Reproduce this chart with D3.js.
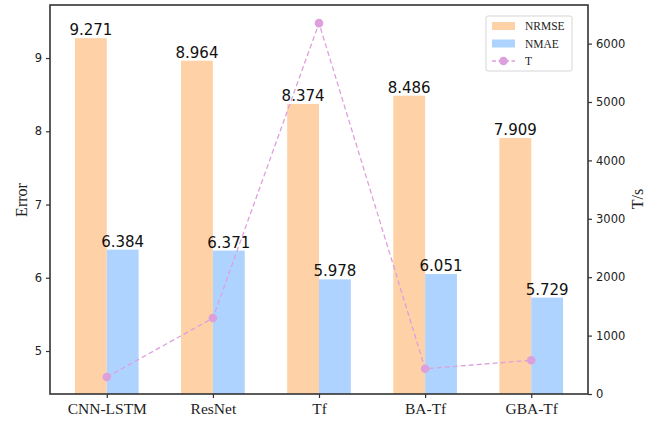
<!DOCTYPE html>
<html><head><meta charset="utf-8">
<script src="https://cdn.jsdelivr.net/npm/d3@7"></script>
<style>body{margin:0;background:#fff}svg{display:block}</style>
</head><body>
<svg id="c" width="662" height="421"></svg>
<script>
const categories = ["CNN-LSTM","ResNet","Tf","BA-Tf","GBA-Tf"];
const nrmse = [9.271, 8.964, 8.374, 8.486, 7.909];
const nmae = [6.384, 6.371, 5.978, 6.051, 5.729];
const timeT = [290, 1300, 6350, 433, 577];
const errorTicks = [5,6,7,8,9];
const timeTicks = [0,1000,2000,3000,4000,5000,6000];

const W=662,H=421;
const m={l:50,t:5,r:588,b:394};
const svg=d3.select("#c");
const x=d3.scaleLinear().domain([-0.535,4.535]).range([m.l,m.r]);
const yL=d3.scaleLinear().domain([4.413,9.724]).range([m.b,m.t]);
const yR=d3.scaleLinear().domain([0,6661]).range([m.b,m.t]);
const bw=0.3;
const cOrange="#ffd1a6", cBlue="#aed3fe", cLine="#dda0dd";

// bars
svg.append("g").selectAll("rect").data(nrmse).join("rect")
  .attr("x",(d,i)=>x(i-bw)).attr("width",x(bw)-x(0))
  .attr("y",d=>yL(d)).attr("height",d=>m.b-yL(d)).attr("fill",cOrange);
svg.append("g").selectAll("rect").data(nmae).join("rect")
  .attr("x",(d,i)=>x(i)).attr("width",x(bw)-x(0))
  .attr("y",d=>yL(d)).attr("height",d=>m.b-yL(d)).attr("fill",cBlue);

// value labels
const lab=svg.append("g").attr("font-family","DejaVu Sans").attr("font-size",15).attr("fill","#111").attr("text-anchor","middle");
nrmse.forEach((d,i)=>lab.append("text").attr("x",x(i-bw/2)).attr("y",yL(d)-3).text(d.toFixed(3)));
nmae.forEach((d,i)=>lab.append("text").attr("x",x(i+bw/2)).attr("y",yL(d)-3).text(d.toFixed(3)));

// line
const line=d3.line().x((d,i)=>x(i)).y(d=>yR(d));
svg.append("path").datum(timeT).attr("d",line).attr("fill","none")
  .attr("stroke",cLine).attr("stroke-width",1.3).attr("stroke-dasharray","5,3");
svg.append("g").selectAll("circle").data(timeT).join("circle")
  .attr("cx",(d,i)=>x(i)).attr("cy",d=>yR(d)).attr("r",4.3).attr("fill",cLine);

// frame
svg.append("rect").attr("x",m.l).attr("y",m.t).attr("width",m.r-m.l).attr("height",m.b-m.t)
  .attr("fill","none").attr("stroke","#333").attr("stroke-width",1.6);

// axes
const axL=svg.append("g").attr("transform",`translate(${m.l},0)`)
  .call(d3.axisLeft(yL).tickValues(errorTicks).tickSize(4).tickPadding(4).tickFormat(d3.format("d")));
const axR=svg.append("g").attr("transform",`translate(${m.r},0)`)
  .call(d3.axisRight(yR).tickValues(timeTicks).tickSize(4).tickPadding(4).tickFormat(d3.format("d")));
const axB=svg.append("g").attr("transform",`translate(0,${m.b})`)
  .call(d3.axisBottom(x).tickValues(d3.range(categories.length)).tickSize(4).tickPadding(5).tickFormat(i=>categories[i]));
[axL,axR,axB].forEach(a=>{a.select(".domain").remove();a.selectAll("line").attr("stroke","#333").attr("stroke-width",1.2);});
axL.selectAll("text").attr("font-family","DejaVu Sans").attr("font-size",11.5).attr("fill","#222");
axR.selectAll("text").attr("font-family","DejaVu Sans").attr("font-size",11.5).attr("fill","#222");
axB.selectAll("text").attr("font-family","Liberation Serif").attr("font-size",15.5).attr("fill","#222");

// axis titles
svg.append("text").attr("transform","translate(27,200) rotate(-90)").attr("text-anchor","middle")
  .attr("font-family","Liberation Serif").attr("font-size",16).attr("fill","#222").text("Error");
svg.append("text").attr("transform","translate(643,199) rotate(-90)").attr("text-anchor","middle")
  .attr("font-family","Liberation Serif").attr("font-size",16).attr("fill","#222").text("T/s");

// legend
const lg=svg.append("g");
lg.append("rect").attr("x",486).attr("y",16).attr("width",86).attr("height",55).attr("rx",2)
  .attr("fill","#fff").attr("fill-opacity",0.8).attr("stroke","#ccc").attr("stroke-width",0.8);
const items=[{n:"NRMSE",t:"bar",c:cOrange},{n:"NMAE",t:"bar",c:cBlue},{n:"T",t:"line",c:cLine}];
items.forEach((it,i)=>{
  const cy=26+i*17.5;
  if(it.t==="bar") lg.append("rect").attr("x",492).attr("y",cy-4).attr("width",23).attr("height",8).attr("fill",it.c);
  else{
    lg.append("line").attr("x1",492).attr("x2",515).attr("y1",cy).attr("y2",cy).attr("stroke",it.c).attr("stroke-width",1.3).attr("stroke-dasharray","4,2.5");
    lg.append("circle").attr("cx",503.5).attr("cy",cy).attr("r",4.3).attr("fill",it.c);
  }
  lg.append("text").attr("x",525).attr("y",cy+4).attr("font-family","Liberation Serif").attr("font-size",11.5).attr("fill","#222").text(it.n);
});
</script>
</body></html>
